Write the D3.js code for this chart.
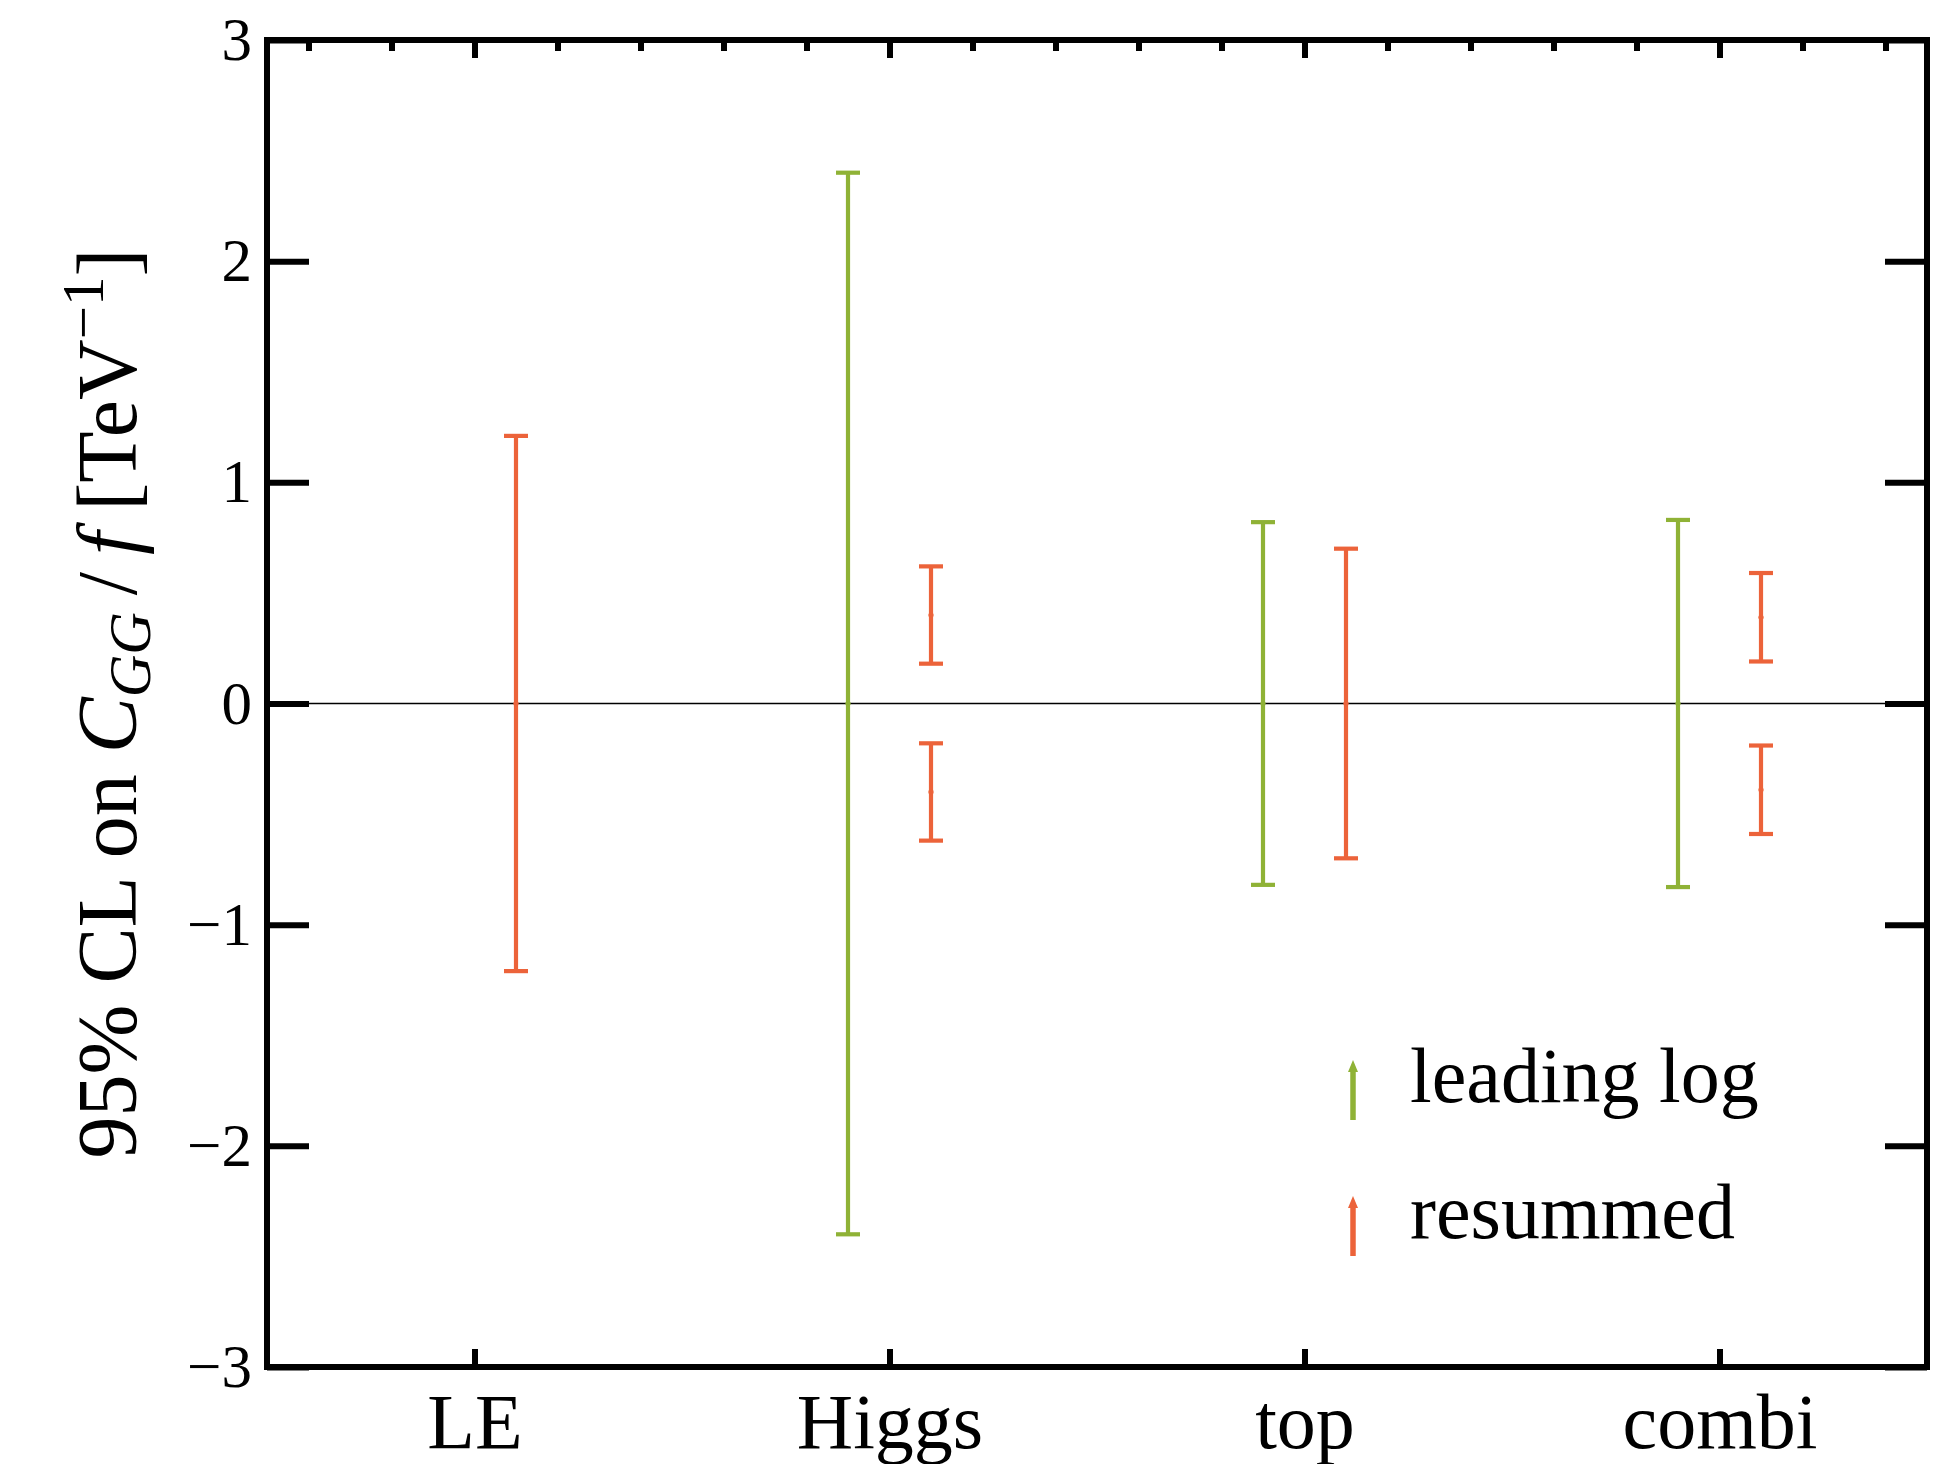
<!DOCTYPE html>
<html>
<head>
<meta charset="utf-8">
<script src="https://cdn.jsdelivr.net/npm/d3@7"></script>
<style>
  body { margin: 0; background: #fff; }
  svg { display: block; font-family: "Liberation Serif", "DejaVu Serif", serif; }
</style>
</head>
<body>
<svg id="chart" width="1936" height="1464"></svg>
<script>
// categories on the x axis
const categories = ['LE', 'Higgs', 'top', 'combi'];

// leading log 95% CL intervals
const llCategory = ['Higgs', 'top', 'combi'];
const llCenter = [0, 0, 0];
const llLow = [-2.40, -0.82, -0.83];
const llHigh = [2.40, 0.82, 0.83];

// resummed 95% CL intervals (Higgs and combi have two disjoint intervals)
const resCategory = ['LE', 'Higgs', 'Higgs', 'top', 'combi', 'combi'];
const resCenter = [0, 0.40, -0.40, 0, 0.39, -0.39];
const resLow = [-1.21, 0.18, -0.62, -0.70, 0.19, -0.59];
const resHigh = [1.21, 0.62, -0.18, 0.70, 0.59, -0.19];

const yTicks = [-3, -2, -1, 0, 1, 2, 3];
const legendLabels = ['leading log', 'resummed'];

const color_leading = '#8fb236';
const color_resummed = '#ec633a';

var margin = {top: 40, right: 9, bottom: 97, left: 267},
    width = 1936 - margin.left - margin.right,
    height = 1464 - margin.top - margin.bottom;

let svg = d3.select('#chart');
let g = svg.append('g').attr('transform', 'translate(' + margin.left + ',' + margin.top + ')');

let x = d3.scaleLinear().domain([0.5, 4.5]).range([0, width]);
let y = d3.scaleLinear().domain([-3, 3]).range([height, 0]);

let catPos = c => categories.indexOf(c) + 1;

// zero line
g.append('line')
    .attr('x1', 0).attr('x2', width)
    .attr('y1', y(0)).attr('y2', y(0))
    .attr('stroke', '#000').attr('stroke-width', 1.6);

//////////////////// axes //////////////////////////
function style_axis(sel, fontSize) {
    sel.select('.domain').remove();
    sel.selectAll('.tick line').attr('stroke', '#000').attr('stroke-width', 6);
    sel.selectAll('.tick text').attr('fill', '#000').style('font-size', fontSize + 'px')
        .style('font-family', '"Liberation Serif", serif');
}

let yLeft = g.append('g')
    .call(d3.axisLeft(y).tickValues(yTicks).tickSize(-42).tickPadding(15)
        .tickFormat(d => d < 0 ? '\u2212' + Math.abs(d) : d));
style_axis(yLeft, 61);

let yRight = g.append('g').attr('transform', 'translate(' + width + ',0)')
    .call(d3.axisRight(y).tickValues(yTicks).tickSize(-42).tickFormat(''));
style_axis(yRight, 0);

let minorTicks = d3.range(6, 45, 2).map(v => v / 10).filter(v => Math.abs(v - Math.round(v)) > 1e-6);
let xTopMinor = g.append('g')
    .call(d3.axisTop(x).tickValues(minorTicks).tickSize(-11).tickFormat(''));
style_axis(xTopMinor, 0);
let xTopMajor = g.append('g')
    .call(d3.axisTop(x).tickValues([1, 2, 3, 4]).tickSize(-18).tickFormat(''));
style_axis(xTopMajor, 0);

let xBottom = g.append('g').attr('transform', 'translate(0,' + height + ')')
    .call(d3.axisBottom(x).tickValues([1, 2, 3, 4]).tickSize(-18).tickPadding(26)
        .tickFormat(d => categories[d - 1]));
style_axis(xBottom, 78);

// frame
g.append('rect')
    .attr('x', 0).attr('y', 0).attr('width', width).attr('height', height)
    .attr('fill', 'none').attr('stroke', '#000').attr('stroke-width', 6);

//////////////////// error bars //////////////////////////
function draw_error_bars(cats, centers, lows, highs, offset, color) {
    let capW = 12;
    let bars = g.append('g').selectAll('g').data(cats.map((c, i) => ({
        xv: catPos(c) + offset, c: centers[i], lo: lows[i], hi: highs[i]
    }))).join('g');

    bars.append('line')
        .attr('x1', d => x(d.xv)).attr('x2', d => x(d.xv))
        .attr('y1', d => y(d.hi)).attr('y2', d => y(d.lo))
        .attr('stroke', color).attr('stroke-width', 4.2);
    bars.append('line')
        .attr('x1', d => x(d.xv) - capW).attr('x2', d => x(d.xv) + capW)
        .attr('y1', d => y(d.hi)).attr('y2', d => y(d.hi))
        .attr('stroke', color).attr('stroke-width', 4.2);
    bars.append('line')
        .attr('x1', d => x(d.xv) - capW).attr('x2', d => x(d.xv) + capW)
        .attr('y1', d => y(d.lo)).attr('y2', d => y(d.lo))
        .attr('stroke', color).attr('stroke-width', 4.2);
    bars.append('circle')
        .attr('cx', d => x(d.xv)).attr('cy', d => y(d.c))
        .attr('r', 2.6).attr('fill', color);
}

draw_error_bars(llCategory, llCenter, llLow, llHigh, -0.1, color_leading);
draw_error_bars(resCategory, resCenter, resLow, resHigh, 0.1, color_resummed);

//////////////////// legend //////////////////////////
let legend = svg.append('g').attr('transform', 'translate(1353,1060)');
[color_leading, color_resummed].forEach(function (col, i) {
    let item = legend.append('g').attr('transform', 'translate(0,' + (i * 136) + ')');
    item.append('line')
        .attr('x1', 0).attr('x2', 0).attr('y1', 8).attr('y2', 60)
        .attr('stroke', col).attr('stroke-width', 5.5);
    item.append('path')
        .attr('d', 'M-5,12 L0,0 L5,12 Z')
        .attr('fill', col);
    item.append('text')
        .attr('x', 57).attr('y', 42)
        .style('font-size', '78px')
        .text(legendLabels[i]);
});

//////////////////// y axis title //////////////////////////
let title = svg.append('text')
    .attr('transform', 'translate(136,' + (margin.top + height / 2) + ') rotate(-90)')
    .attr('text-anchor', 'middle')
    .style('font-size', '84px');
title.append('tspan').text('95% CL on ');
title.append('tspan').style('font-style', 'italic').text('C');
title.append('tspan').style('font-style', 'italic').style('font-size', '59px').attr('dy', 14).text('GG');
title.append('tspan').attr('dy', -14).text('\u2009/\u2009');
title.append('tspan').style('font-style', 'italic').text('f');
title.append('tspan').text(' [TeV');
title.append('tspan').style('font-size', '59px').attr('dy', -33).text('\u22121');
title.append('tspan').attr('dy', 33).text(']');
</script>
</body>
</html>
